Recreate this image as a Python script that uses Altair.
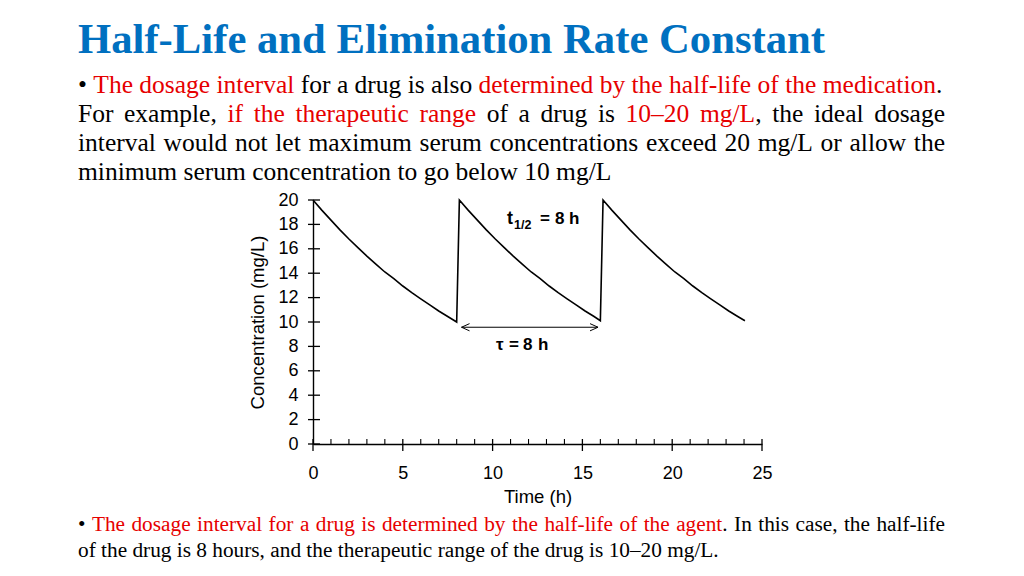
import altair as alt
import pandas as pd

# ---------------- data ----------------
time_h = [0, 0.5, 1, 1.5, 2, 2.5, 3, 3.5, 4, 4.5, 5, 5.5, 6, 6.5, 7, 7.5, 8.0,
          8.15, 8.65, 9.15, 9.65, 10.15, 10.65, 11.15, 11.65, 12.15, 12.65, 13.15,
          13.65, 14.15, 14.65, 15.15, 15.65, 16.0,
          16.15, 16.65, 17.15, 17.65, 18.15, 18.65, 19.15, 19.65, 20.15, 20.65, 21.15,
          21.65, 22.15, 22.65, 23.15, 23.65, 24.05]
conc_mg_l = [20.0, 19.15, 18.35, 17.55, 16.8, 16.1, 15.4, 14.75, 14.1, 13.55, 12.95,
             12.4, 11.9, 11.4, 10.9, 10.45, 10.0,
             20.0, 19.15, 18.35, 17.55, 16.8, 16.1, 15.4, 14.75, 14.1, 13.55, 12.95,
             12.4, 11.9, 11.4, 10.9, 10.45, 10.1,
             20.0, 19.15, 18.35, 17.55, 16.8, 16.1, 15.4, 14.75, 14.1, 13.55, 12.95,
             12.4, 11.9, 11.4, 10.9, 10.45, 10.1]

y_tick_values = [0, 2, 4, 6, 8, 10, 12, 14, 16, 18, 20]
x_major_values = [0, 5, 10, 15, 20, 25]
x_minor_values = [1, 2, 3, 4, 6, 7, 8, 9, 11, 12, 13, 14, 16, 17, 18, 19, 21, 22, 23, 24]

# interval arrow (tau) in data units
arrow_t = [8.27, 15.87]
arrow_c = [9.57, 9.57]

# annotation pieces (text, time, conc, font size)
annot_text = ["t", "1/2", "=", "8", "h", "τ", "=", "8", "h"]
annot_t = [10.80, 11.19, 12.64, 13.47, 14.25, 10.19, 10.91, 11.69, 12.53]
annot_c = [18.44, 17.95, 18.44, 18.44, 18.44, 8.11, 8.11, 8.11, 8.11]
annot_size = [18, 12.5, 17, 17, 17, 17, 17, 17, 17]

title_text = "Half-Life and Elimination Rate Constant"

RED = "#E60000"
BLACK = "#000000"
BLUE = "#0070C0"

top_lines = [
    [("• ", BLACK), ("The dosage interval", RED), (" for a drug is also ", BLACK),
     ("determined by the half-life of the medication", RED), (".", BLACK)],
    [("For example, ", BLACK), ("if the therapeutic range", RED), (" of a drug is ", BLACK),
     ("10–20 mg/L", RED), (", the ideal dosage", BLACK)],
    [("interval would not let maximum serum concentrations exceed 20 mg/L or allow the", BLACK)],
    [("minimum serum concentration to go below 10 mg/L", BLACK)],
]
top_justify = [False, True, True, False]

bottom_lines = [
    [("• ", BLACK), ("The dosage interval for a drug is determined by the half-life of the agent", RED),
     (". In this case, the half-life", BLACK)],
    [("of the drug is 8 hours, and the therapeutic range of the drug is 10–20 mg/L.", BLACK)],
]
bottom_justify = [True, False]

# ---------------- layout helpers ----------------
W, H = 449, 244            # plot area
OX, OY = 313, 200          # plot origin on the page

TW = {}
for ch, w in zip("abcdefghijklmnopqrstuvwxyz",
                 [444, 500, 444, 500, 444, 333, 500, 500, 278, 278, 500, 278, 778,
                  500, 500, 500, 500, 333, 389, 278, 500, 500, 722, 500, 500, 444]):
    TW[ch] = w
for ch, w in zip("ABCDEFGHIJKLMNOPQRSTUVWXYZ",
                 [722, 667, 667, 722, 611, 556, 722, 722, 333, 389, 722, 611, 889,
                  722, 722, 556, 722, 667, 556, 611, 722, 722, 944, 722, 722, 611]):
    TW[ch] = w
for ch in "0123456789":
    TW[ch] = 500
TW.update({" ": 250, ",": 250, ".": 250, "-": 333, "/": 278, "–": 500, "•": 350,
           ":": 278, "(": 333, ")": 333})


def text_w(s, size):
    return sum(TW.get(c, 500) for c in s) * size / 1000.0


def layout(runs, x0, baseline, size, justify_to=None):
    words, cur = [], []
    for text, col in runs:
        buf = ""
        for ch in text:
            if ch == " ":
                if buf:
                    cur.append((buf, col))
                    buf = ""
                if cur:
                    words.append(cur)
                    cur = []
            else:
                buf += ch
        if buf:
            cur.append((buf, col))
    if cur:
        words.append(cur)
    ww = [sum(text_w(p, size) for p, _ in wd) for wd in words]
    gap = 250 * size / 1000.0
    if justify_to is not None and len(words) > 1:
        gap = (justify_to - x0 - sum(ww)) / (len(words) - 1)
    rows, x = [], x0
    for wd, wlen in zip(words, ww):
        px = x
        for p, c in wd:
            rows.append(dict(px=px - OX, py=baseline - OY, txt=p, col=c, size=size))
            px += text_w(p, size)
        x += wlen + gap
    return rows


rows = []
for i, (ln, j) in enumerate(zip(top_lines, top_justify)):
    rows += layout(ln, 78, 93 + 29 * i, 25.5, 945 if j else None)
for i, (ln, j) in enumerate(zip(bottom_lines, bottom_justify)):
    rows += layout(ln, 78, 531 + 26 * i, 21.3, 945 if j else None)
body_df = pd.DataFrame(rows)
title_df = pd.DataFrame([dict(px=78 - OX, py=53 - OY, txt=title_text)])

curve_df = pd.DataFrame({"t": time_h, "c": conc_mg_l})
ytick_df = pd.DataFrame({"v": y_tick_values})
xmaj_df = pd.DataFrame({"v": x_major_values})
xmin_df = pd.DataFrame({"v": x_minor_values})
arrow_df = pd.DataFrame({"t": [arrow_t[0]], "t2": [arrow_t[1]], "c": [arrow_c[0]]})
heads_df = pd.DataFrame({
    "t": arrow_t, "c": arrow_c,
    "shape": ["M0,0L1,-0.45M0,0L1,0.45", "M0,0L-1,-0.45M0,0L-1,0.45"],
})
annot_df = pd.DataFrame({"txt": annot_text, "t": annot_t, "c": annot_c, "size": annot_size})

xs = alt.Scale(domain=[0, 25], nice=False, zero=False)
ys = alt.Scale(domain=[0, 20], nice=False)
SANS = "Liberation Sans"
SERIF = "Liberation Serif"

curve = alt.Chart(curve_df).mark_line(color="black", strokeWidth=1.6).encode(
    x=alt.X("t:Q", scale=xs, axis=alt.Axis(
        values=x_major_values, title="Time (h)", grid=False, tickSize=0,
        domainColor="black", domainWidth=1.4, labelFont=SANS, labelFontSize=18,
        labelColor="black", labelPadding=20, labelFlush=False, titleFont=SANS,
        titleFontSize=18.5, titleFontWeight="normal", titleColor="black", titlePadding=5)),
    y=alt.Y("c:Q", scale=ys, axis=alt.Axis(
        values=y_tick_values, title="Concentration (mg/L)", grid=False, tickSize=0,
        domainColor="black", domainWidth=1.4, labelFont=SANS, labelFontSize=18,
        labelColor="black", labelPadding=15, labelFlush=False, titleFont=SANS,
        titleFontSize=18.5, titleFontWeight="normal", titleColor="black", titlePadding=10)),
    order="t:Q",
)

yticks = alt.Chart(ytick_df).mark_rule(color="black", strokeWidth=1.3).encode(
    y=alt.Y("v:Q", scale=ys, axis=None), x=alt.value(-5), x2=alt.value(7))
xmaj = alt.Chart(xmaj_df).mark_rule(color="black", strokeWidth=1.3).encode(
    x=alt.X("v:Q", scale=xs, axis=None), y=alt.value(H - 5), y2=alt.value(H + 7))
xmin = alt.Chart(xmin_df).mark_rule(color="black", strokeWidth=1.1).encode(
    x=alt.X("v:Q", scale=xs, axis=None), y=alt.value(H - 5), y2=alt.value(H))

arrow = alt.Chart(arrow_df).mark_rule(color="black", strokeWidth=1).encode(
    x=alt.X("t:Q", scale=xs, axis=None), x2="t2:Q", y=alt.Y("c:Q", scale=ys, axis=None))
heads = alt.Chart(heads_df).mark_point(filled=False, color="black", strokeWidth=1,
                                       size=256, opacity=1).encode(
    x=alt.X("t:Q", scale=xs, axis=None), y=alt.Y("c:Q", scale=ys, axis=None),
    shape=alt.Shape("shape:N", scale=None))

annot = alt.Chart(annot_df).mark_text(font=SANS, fontWeight="bold", align="left",
                                      baseline="middle", color="black").encode(
    x=alt.X("t:Q", scale=xs, axis=None), y=alt.Y("c:Q", scale=ys, axis=None),
    text="txt:N", size=alt.Size("size:Q", scale=None))

title = alt.Chart(title_df).mark_text(font=SERIF, fontWeight="bold", fontSize=42.7,
                                      align="left", baseline="alphabetic", color=BLUE).encode(
    x=alt.X("px:Q", scale=None, axis=None), y=alt.Y("py:Q", scale=None, axis=None), text="txt:N")

body = alt.Chart(body_df).mark_text(font=SERIF, align="left", baseline="alphabetic").encode(
    x=alt.X("px:Q", scale=None, axis=None), y=alt.Y("py:Q", scale=None, axis=None),
    text="txt:N", color=alt.Color("col:N", scale=None), size=alt.Size("size:Q", scale=None))

chart = alt.layer(curve, yticks, xmaj, xmin, arrow, heads, annot, title, body).resolve_scale(
    x="independent", y="independent", size="independent", color="independent",
    shape="independent"
).properties(
    width=W, height=H,
    padding={"left": 305, "top": 192, "right": 254, "bottom": 120},
    autosize=alt.AutoSizeParams(type="none"),
    background="white",
).configure_view(stroke=None)

chart.save("out.html", embed_options={"renderer": "svg", "actions": False})
